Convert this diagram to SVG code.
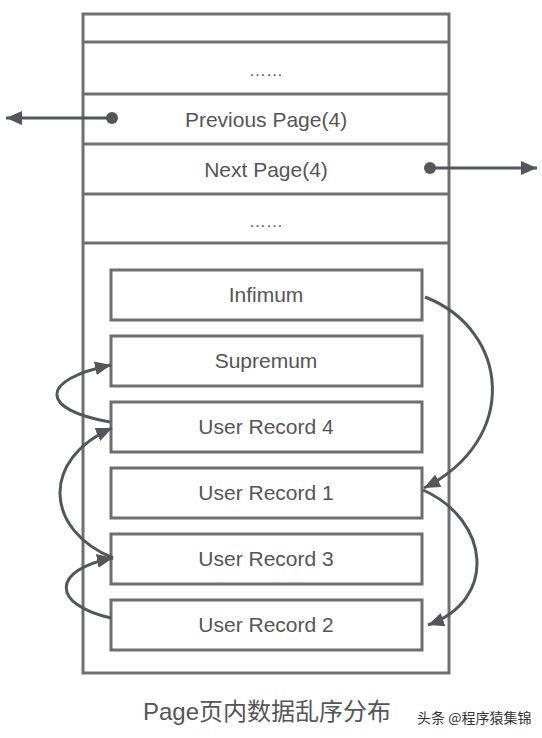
<svg xmlns="http://www.w3.org/2000/svg" width="542" height="738" viewBox="0 0 542 738">
<style>
.frame{fill:#ffffff;stroke:#707070;stroke-width:3}
.box{fill:#ffffff;stroke:#6e6e6e;stroke-width:3}
.lbl{font-family:"Liberation Sans",Arial,sans-serif;font-size:21px;fill:#555555;text-anchor:middle}
.con{fill:none;stroke:#53575c;stroke-width:3}
.cap{font-family:"Liberation Sans","Noto Sans CJK SC",sans-serif;font-size:24px;fill:#555555;text-anchor:middle}
.wm{font-family:"Noto Sans CJK SC",sans-serif;font-size:14px;fill:#333333}
</style>
<defs>
<marker id="ah" markerUnits="userSpaceOnUse" markerWidth="18" markerHeight="16" refX="16" refY="8" orient="auto">
<path d="M0,1 L16,8 L0,15 Z" fill="#53575c"/>
</marker>
</defs>
<rect width="542" height="738" fill="#ffffff"/>
<g id="page">
<rect class="frame" x="83" y="14" width="366" height="659"/>
<line class="frame" x1="83" y1="42" x2="449" y2="42"/>
<line class="frame" x1="83" y1="94" x2="449" y2="94"/>
<line class="frame" x1="83" y1="144" x2="449" y2="144"/>
<line class="frame" x1="83" y1="194" x2="449" y2="194"/>
<line class="frame" x1="83" y1="243" x2="449" y2="243"/>
<text class="lbl" x="266" y="76" style="font-size:17px">……</text>
<text class="lbl" x="266" y="127">Previous Page(4)</text>
<text class="lbl" x="266" y="177">Next Page(4)</text>
<text class="lbl" x="266" y="227" style="font-size:17px">……</text>
</g>
<g id="infimum"><rect class="box" x="111" y="270" width="311" height="50"/><text class="lbl" x="266" y="302">Infimum</text></g>
<g id="supremum"><rect class="box" x="111" y="336" width="311" height="50"/><text class="lbl" x="266" y="368">Supremum</text></g>
<g id="ur4"><rect class="box" x="111" y="402" width="311" height="50"/><text class="lbl" x="266" y="434">User Record 4</text></g>
<g id="ur1"><rect class="box" x="111" y="468" width="311" height="50"/><text class="lbl" x="266" y="500">User Record 1</text></g>
<g id="ur3"><rect class="box" x="111" y="534" width="311" height="50"/><text class="lbl" x="266" y="566">User Record 3</text></g>
<g id="ur2"><rect class="box" x="111" y="600" width="311" height="50"/><text class="lbl" x="266" y="632">User Record 2</text></g>
<g id="connectors">
<circle cx="112" cy="118" r="6" fill="#53575c"/>
<path class="con" d="M112,118 L6,118" marker-end="url(#ah)"/>
<circle cx="430" cy="168" r="6" fill="#53575c"/>
<path class="con" d="M430,168 L537,168" marker-end="url(#ah)"/>
<path class="con" d="M425,297 C510,330 520,440 424,488" marker-end="url(#ah)"/>
<path class="con" d="M423,490 C490,520 498,600 428,625" marker-end="url(#ah)"/>
<path class="con" d="M111,618 C52,605 50,570 113,558" marker-end="url(#ah)"/>
<path class="con" d="M113,558 C45,530 40,460 112,428" marker-end="url(#ah)"/>
<path class="con" d="M110,422 C40,410 38,380 111,365" marker-end="url(#ah)"/>
</g>
<text class="cap" x="267" y="720">Page页内数据乱序分布</text>
<text class="wm" x="417" y="723">头条 @程序猿集锦</text>
</svg>
